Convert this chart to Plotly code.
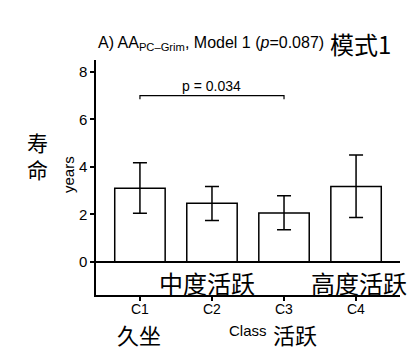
import plotly.graph_objects as go

# Data
classes = ["C1", "C2", "C3", "C4"]
years = [3.10, 2.46, 2.05, 3.17]
err_plus = [1.07, 0.71, 0.73, 1.33]
err_minus = [1.06, 0.72, 0.70, 1.30]
y_ticks = [0, 2, 4, 6, 8]
bracket_from, bracket_mid, bracket_to = "C1", "C2", "C3"
bracket_y = 7.0
bracket_drop = 0.15
bracket_text = "p = 0.034"

LAT = "Liberation Sans, Arial, sans-serif"
CJK = "Noto Sans CJK SC, sans-serif"

fig = go.Figure()
fig.add_trace(go.Bar(
    x=classes, y=years, width=0.7,
    marker=dict(color="white", line=dict(color="black", width=1.5)),
    error_y=dict(type="data", symmetric=False, array=err_plus, arrayminus=err_minus,
                 color="black", thickness=1.5, width=7),
    showlegend=False,
))
fig.add_trace(go.Scatter(
    x=[bracket_from, bracket_from, bracket_to, bracket_to],
    y=[bracket_y - bracket_drop, bracket_y, bracket_y, bracket_y - bracket_drop],
    mode="lines", line=dict(color="black", width=1.2), showlegend=False, hoverinfo="skip",
))

W, H = 412, 350
L, R, T, B = 96, 12, 60, 55
pw, ph = W - L - R, H - T - B

def px(x):
    return (x - L) / pw

def py(y):
    return (H - B - y) / ph

ann = []
ann.append(dict(x=bracket_mid, y=bracket_y, xref="x", yref="y", text=bracket_text,
                showarrow=False, yanchor="bottom", yshift=0,
                font=dict(family=LAT, size=14, color="black")))
# category tick labels, placed under each category
for c in classes:
    ann.append(dict(x=c, y=py(308.5), xref="x", yref="paper", xanchor="center", yanchor="middle",
                    text=c, showarrow=False, font=dict(family=LAT, size=14, color="black")))
ann.append(dict(x=px(96), y=py(43), xref="paper", yref="paper", xanchor="left", yanchor="middle",
                text="A) AA<sub>PC–Grim</sub>, Model 1 (<i>p</i>=0.087)", showarrow=False,
                font=dict(family=LAT, size=16, color="black")))
ann.append(dict(x=px(328), y=py(43), xref="paper", yref="paper", xanchor="left", yanchor="middle",
                text="模式1", showarrow=False, font=dict(family=CJK, size=24, color="black")))
ann.append(dict(x=px(37), y=py(155), xref="paper", yref="paper", xanchor="center", yanchor="middle",
                text="寿<br>命", showarrow=False, font=dict(family=CJK, size=21, color="black")))
ann.append(dict(x=px(68), y=py(175), xref="paper", yref="paper", xanchor="center", yanchor="middle",
                text="years", textangle=-90, showarrow=False, font=dict(family=LAT, size=15, color="black")))
ann.append(dict(x=px(207), y=py(282), xref="paper", yref="paper", xanchor="center", yanchor="middle",
                text="中度活跃", showarrow=False, font=dict(family=CJK, size=24, color="black")))
ann.append(dict(x=px(359), y=py(282), xref="paper", yref="paper", xanchor="center", yanchor="middle",
                text="高度活跃", showarrow=False, font=dict(family=CJK, size=24, color="black")))
ann.append(dict(x=px(139), y=py(333.5), xref="paper", yref="paper", xanchor="center", yanchor="middle",
                text="久坐", showarrow=False, font=dict(family=CJK, size=22, color="black")))
ann.append(dict(x=px(248), y=py(330), xref="paper", yref="paper", xanchor="center", yanchor="middle",
                text="Class", showarrow=False, font=dict(family=LAT, size=15, color="black")))
ann.append(dict(x=px(295), y=py(333.5), xref="paper", yref="paper", xanchor="center", yanchor="middle",
                text="活跃", showarrow=False, font=dict(family=CJK, size=22, color="black")))

fig.update_layout(
    width=W, height=H, margin=dict(l=L, r=R, t=T, b=B),
    paper_bgcolor="white", plot_bgcolor="white",
    annotations=ann,
    xaxis=dict(type="category", range=[-0.61, 3.61], showline=True, linecolor="black", linewidth=1.5,
               ticks="outside", ticklen=4, tickwidth=1.5, tickcolor="black", showgrid=False,
               showticklabels=False),
    yaxis=dict(range=[-1.4, 8.5], tickvals=y_ticks, showline=True, linecolor="black", linewidth=1.5,
               ticks="outside", ticklen=4, tickwidth=1.5, tickcolor="black", showgrid=False,
               zeroline=True, zerolinecolor="black", zerolinewidth=1.5,
               tickfont=dict(family=LAT, size=15, color="black")),
)
fig.write_html("out.html")
